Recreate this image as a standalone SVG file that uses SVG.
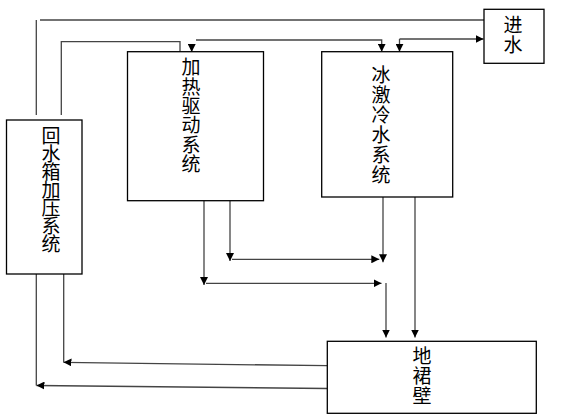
<svg xmlns="http://www.w3.org/2000/svg" width="568" height="416" viewBox="0 0 568 416">
<style>
.box{fill:#fff;stroke:#000;stroke-width:1.3}
.lbl{font-family:"Noto Sans CJK SC","Noto Sans CJK TC",sans-serif;font-size:19px;fill:#000;writing-mode:vertical-rl;text-orientation:upright}
.ln{fill:none;stroke:#444;stroke-width:1.3}
</style>
<defs>
<marker id="ah" markerUnits="userSpaceOnUse" markerWidth="9" markerHeight="8" refX="8" refY="4" orient="auto">
<path d="M0,0 L8,4 L0,8 z" fill="#000"/>
</marker>
</defs>
<rect width="568" height="416" fill="#fff"/>
<g id="connectors">
<path class="ln" d="M484,20 H40"/>
<path class="ln" d="M36.3,20 V115"/>
<path class="ln" d="M61.3,115 V41.7 H180 V51.7"/>
<path class="ln" d="M196,40 H381.7 V51.7" marker-end="url(#ah)"/>
<path class="ln" d="M191.7,44 V52" marker-end="url(#ah)"/>
<path class="ln" d="M399.5,39 H483.5" marker-end="url(#ah)"/>
<path class="ln" d="M399.5,39 V51.7" marker-end="url(#ah)"/>
<path class="ln" d="M204,201 V285" marker-end="url(#ah)"/>
<path class="ln" d="M206,283.3 H381.5" marker-end="url(#ah)"/>
<path class="ln" d="M230,201 V261" marker-end="url(#ah)"/>
<path class="ln" d="M232,259.3 H379.3" marker-end="url(#ah)"/>
<path class="ln" d="M383,197 V262.3" marker-end="url(#ah)"/>
<path class="ln" d="M415,197 V337.5" marker-end="url(#ah)"/>
<path class="ln" d="M386,283 V337.5" marker-end="url(#ah)"/>
<path class="ln" d="M63.7,274 V362.3"/>
<path class="ln" d="M327,365.7 L63.5,362.3" marker-end="url(#ah)"/>
<path class="ln" d="M36.3,274 V385.5"/>
<path class="ln" d="M327,388.5 L36.5,385.5" marker-end="url(#ah)"/>
</g>
<g id="jinshui">
<rect class="box" x="484" y="9.3" width="60" height="54"/>
<text class="lbl" x="513" y="15.5" letter-spacing="1">进水</text>
</g>
<g id="huishui">
<rect class="box" x="6.5" y="120" width="75.5" height="154"/>
<text class="lbl" x="51" y="126.5" letter-spacing="-1">回水箱加压系统</text>
</g>
<g id="jiare">
<rect class="box" x="127.5" y="51.7" width="136" height="149"/>
<text class="lbl" x="191" y="57.5" letter-spacing="0.4">加热驱动系统</text>
</g>
<g id="bingji">
<rect class="box" x="321.7" y="51.7" width="131" height="145.3"/>
<text class="lbl" x="381" y="65.5" letter-spacing="1">冰激冷水系统</text>
</g>
<g id="diqunbi">
<rect class="box" x="327.3" y="341.3" width="209" height="72"/>
<text class="lbl" x="422" y="346.5" letter-spacing="1">地裙壁</text>
</g>
</svg>
